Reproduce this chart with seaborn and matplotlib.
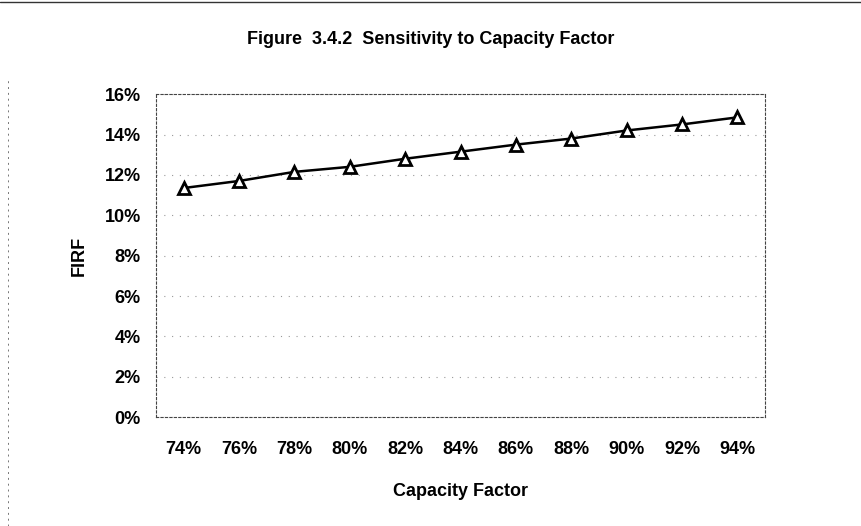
import matplotlib
matplotlib.use("Agg")
import matplotlib.pyplot as plt
import pandas as pd
import seaborn as sns
from matplotlib.lines import Line2D
from matplotlib.ticker import FuncFormatter

capacity_factor = [74, 76, 78, 80, 82, 84, 86, 88, 90, 92, 94]
firf = [11.35, 11.7, 12.15, 12.4, 12.8, 13.15, 13.5, 13.8, 14.2, 14.5, 14.85]
y_ticks = [0, 2, 4, 6, 8, 10, 12, 14, 16]

df = pd.DataFrame({"Capacity Factor": capacity_factor, "FIRF": firf})

sns.set_theme(style="white")
plt.rcParams["font.family"] = ["Liberation Sans", "DejaVu Sans"]
plt.rcParams.update({"text.color": "black", "axes.labelcolor": "black",
                     "xtick.color": "black", "ytick.color": "black"})

fig = plt.figure(figsize=(8.62, 5.26), dpi=100)
ax = fig.add_axes([0.181, 0.207, 0.7065, 0.614])

sns.lineplot(data=df, x="Capacity Factor", y="FIRF", ax=ax, color="black",
             linewidth=1.8, marker="^", markersize=8, markerfacecolor="white",
             markeredgecolor="black", markeredgewidth=2.0)

ax.set_xlim(73, 95)
ax.set_ylim(0, 16)
ax.set_xticks(capacity_factor)
ax.set_yticks(y_ticks)
ax.xaxis.set_major_formatter(FuncFormatter(lambda v, _: f"{v:.0f}%"))
ax.yaxis.set_major_formatter(FuncFormatter(lambda v, _: f"{v:.0f}%"))
ax.tick_params(axis="both", labelsize=13, length=0, labelcolor="black")
ax.tick_params(axis="x", pad=17)
ax.tick_params(axis="y", pad=11)
for lab in ax.get_xticklabels() + ax.get_yticklabels():
    lab.set_fontweight("bold")

ax.grid(axis="y", color="#999999", linestyle=(0, (1, 6)), linewidth=0.8)
for side in ax.spines.values():
    side.set_color("#444444")
    side.set_linestyle((0, (2, 2)))
    side.set_linewidth(0.8)

ax.set_xlabel("Capacity Factor", fontsize=13, fontweight="bold", labelpad=18, color="black")
ax.set_ylabel("FIRF", fontsize=13, fontweight="bold", labelpad=12, color="black")

fig.text(0.5, 0.924, "Figure  3.4.2  Sensitivity to Capacity Factor",
         ha="center", va="center", fontsize=13, fontweight="bold", color="black")

# page border remnants from the scan
fig.add_artist(Line2D([0.0, 1.0], [0.996, 0.996], color="#333333", linewidth=1.0,
                      transform=fig.transFigure))
fig.add_artist(Line2D([0.009, 0.009], [0.0, 0.85], color="#777777", linewidth=0.7,
                      linestyle=(0, (2, 4)), transform=fig.transFigure))

fig.savefig("out.png", dpi=100)
